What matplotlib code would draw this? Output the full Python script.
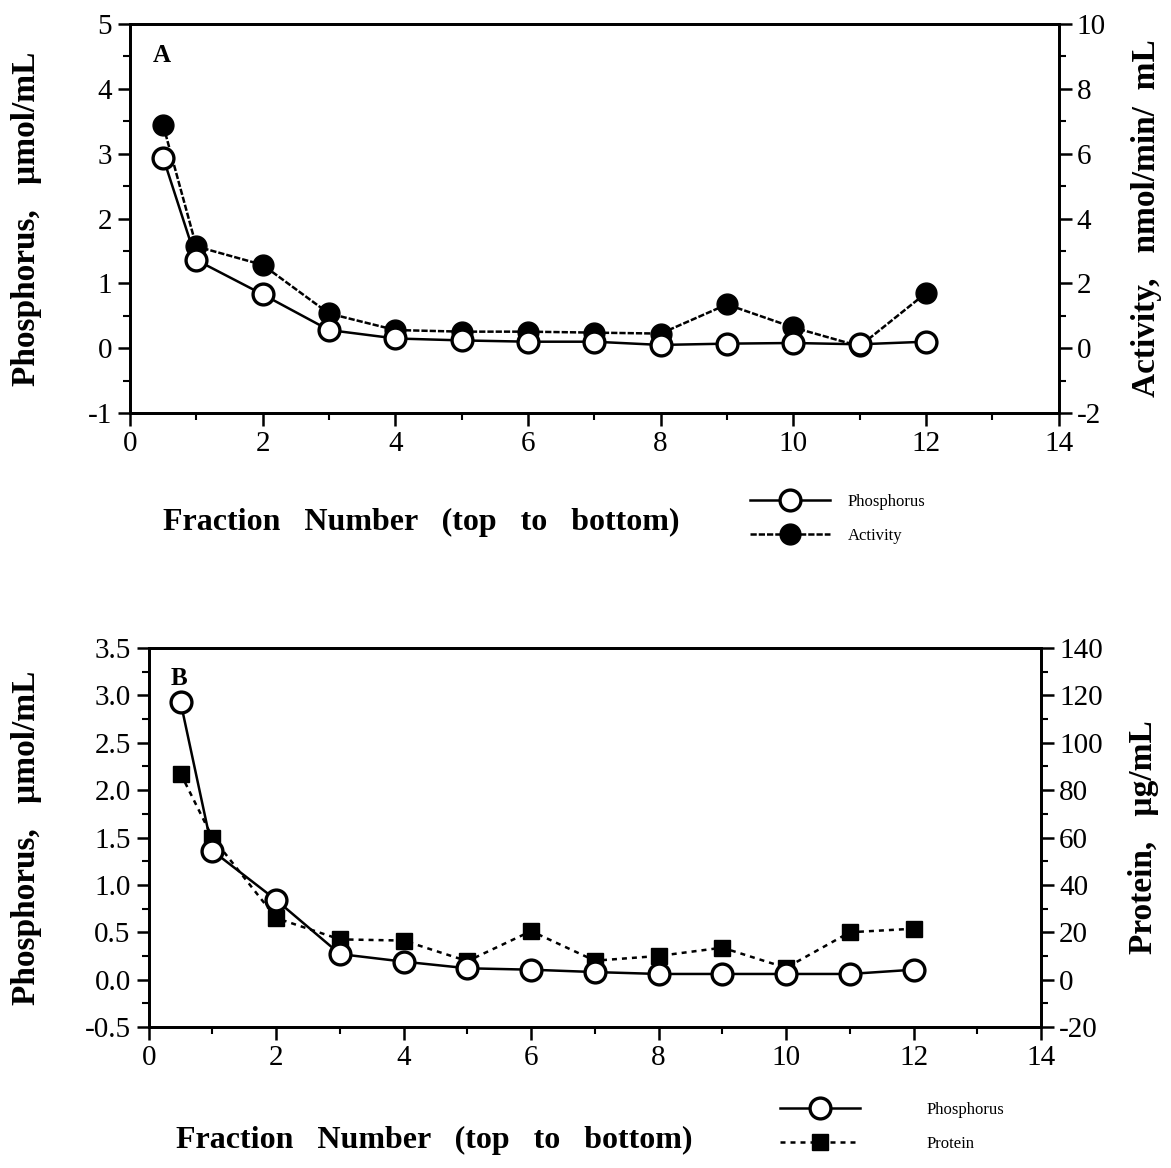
import matplotlib

matplotlib.use("Agg")

import matplotlib.pyplot as plt
from matplotlib.ticker import FormatStrFormatter, MultipleLocator

plt.rcParams["font.family"] = ["Liberation Serif", "DejaVu Serif"]
plt.rcParams["axes.unicode_minus"] = False

# ---- data -----------------------------------------------------------------
fraction = [0.5, 1, 2, 3, 4, 5, 6, 7, 8, 9, 10, 11, 12]

# panel A
phos_a = [2.94, 1.36, 0.83, 0.28, 0.15, 0.12, 0.10, 0.10, 0.05, 0.07, 0.08, 0.06, 0.10]
activity_a = [6.88, 3.14, 2.57, 1.07, 0.56, 0.51, 0.51, 0.48, 0.45, 1.35, 0.64, 0.06, 1.70]

# panel B
phos_b = [2.93, 1.36, 0.84, 0.27, 0.19, 0.12, 0.105, 0.08, 0.06, 0.06, 0.06, 0.06, 0.105]
protein_b = [87, 60, 26, 17, 16.5, 7.8, 20.5, 8, 10, 13.5, 5, 20, 21.5]

C_INK = "black"
TICK_FS = 21
XLABEL_FS = 23
YLABEL_FS = 24


def style_axis(ax):
    for sp in ax.spines.values():
        sp.set_linewidth(2.0)
    ax.tick_params(which="major", direction="out", length=9, width=1.8,
                   labelsize=TICK_FS, pad=4)
    ax.tick_params(which="minor", direction="out", length=5, width=1.5)


def panel(ax, y_left, y_right, left_lim, right_lim, left_step, right_step,
          marker2, ls2, ms2, label2, right_label, tag, leg_anchor, leg_pad,
          xlab_pos, ylab_x, ylab2_x):
    ax2 = ax.twinx()
    (h1,) = ax.plot(fraction, y_left, color=C_INK, lw=1.8, ls="-", marker="o",
                    ms=15, mfc="white", mec=C_INK, mew=2.4, zorder=3,
                    label="Phosphorus")
    (h2,) = ax2.plot(fraction, y_right, color=C_INK, lw=1.8, ls=ls2,
                     marker=marker2, ms=ms2, mfc=C_INK, mec=C_INK, zorder=4,
                     label=label2)
    ax.set_zorder(ax2.get_zorder() + 1)
    ax.patch.set_visible(False)

    ax.set_xlim(0, 14)
    ax.set_ylim(*left_lim)
    ax2.set_ylim(*right_lim)
    ax.xaxis.set_major_locator(MultipleLocator(2))
    ax.xaxis.set_minor_locator(MultipleLocator(1))
    ax.yaxis.set_major_locator(MultipleLocator(left_step))
    ax.yaxis.set_minor_locator(MultipleLocator(left_step / 2))
    ax2.yaxis.set_major_locator(MultipleLocator(right_step))
    ax2.yaxis.set_minor_locator(MultipleLocator(right_step / 2))
    style_axis(ax)
    style_axis(ax2)

    ax.set_xlabel("Fraction   Number   (top   to   bottom)", fontsize=XLABEL_FS,
                  fontweight="bold")
    ax.xaxis.set_label_coords(*xlab_pos)
    ax.set_ylabel("Phosphorus,   \u00b5mol/mL", fontsize=YLABEL_FS, fontweight="bold")
    ax.yaxis.set_label_coords(ylab_x, 0.5)
    ax2.set_ylabel(right_label, fontsize=YLABEL_FS, fontweight="bold")
    ax2.yaxis.set_label_coords(ylab2_x, 0.5)

    ax.text(0.025, 0.95, tag, transform=ax.transAxes, fontsize=18,
            fontweight="bold", ha="left", va="top")

    ax.legend([h1, h2], ["Phosphorus", label2], loc="upper left",
              bbox_to_anchor=leg_anchor, frameon=False, fontsize=12,
              handlelength=4.8, handletextpad=leg_pad, labelspacing=1.1,
              borderaxespad=0)
    return ax2


fig = plt.figure(figsize=(11.71, 11.68), dpi=100)
fig.patch.set_facecolor("white")

ax_a = fig.add_axes([0.111, 0.6464, 0.793, 0.333])
panel(ax_a, phos_a, activity_a, (-1, 5), (-2, 10), 1, 2,
      "o", (0, (2.5, 0.8)), 15, "Activity", "Activity,   nmol/min/  mL", "A",
      (0.66, -0.19), 1.1, (0.314, -0.245), -0.095, 1.078)
ax_a.yaxis.set_major_formatter(FormatStrFormatter("%d"))

ax_b = fig.add_axes([0.127, 0.1207, 0.762, 0.3245])
panel(ax_b, phos_b, protein_b, (-0.5, 3.5), (-20, 140), 0.5, 20,
      "s", (0, (2, 2)), 11, "Protein", "Protein,   \u00b5g/mL", "B",
      (0.70, -0.18), 4.0, (0.32, -0.26), -0.12, 1.098)
ax_b.yaxis.set_major_formatter(FormatStrFormatter("%.1f"))

fig.savefig("out.png", dpi=100, facecolor="white")
